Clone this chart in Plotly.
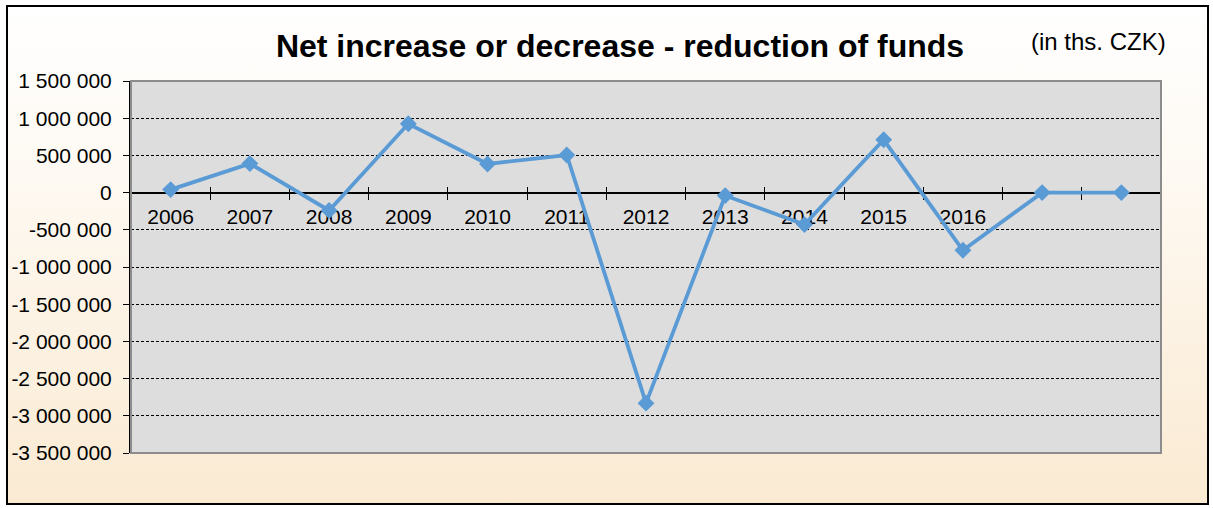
import base64
import plotly.graph_objects as go

# Net increase / decrease of funds, in thousands CZK
years = ["2006", "2007", "2008", "2009", "2010", "2011", "2012",
         "2013", "2014", "2015", "2016", "", ""]
values = [40000, 390000, -240000, 925000, 385000, 505000, -2830000,
          -40000, -430000, 710000, -775000, 0, 0]

y_ticks = [1500000, 1000000, 500000, 0, -500000, -1000000, -1500000,
           -2000000, -2500000, -3000000, -3500000]
y_tick_text = [f"{v:,}".replace(",", " ") for v in y_ticks]

W, H = 1213, 508
ML, MR, MT, MB = 131, 52, 81, 55
PW, PH = W - ML - MR, H - MT - MB

x_idx = list(range(len(values)))
bounds = [i - 0.5 for i in range(len(values) + 1)]
y_min, y_max = -3500000, 1500000
zero_pos = (0 - y_min) / (y_max - y_min)

FONT = "Liberation Sans, Arial, sans-serif"

# chart-area backdrop: vertical white-to-peach gradient with a black frame
svg = f"""<svg xmlns='http://www.w3.org/2000/svg' width='{W}' height='{H}' viewBox='0 0 {W} {H}'>
<defs><linearGradient id='g' x1='0' y1='0' x2='0' y2='1'>
<stop offset='0' stop-color='#FFFFFF'/><stop offset='0.35' stop-color='#FEF9F2'/>
<stop offset='1' stop-color='#FAEAD2'/></linearGradient></defs>
<rect x='7' y='6' width='1201' height='498' fill='url(#g)' stroke='#000000' stroke-width='2'/>
</svg>"""
bg_uri = "data:image/svg+xml;base64," + base64.b64encode(svg.encode()).decode()

fig = go.Figure()
fig.add_trace(go.Scatter(
    x=x_idx, y=values, mode="lines+markers",
    line=dict(color="#5B9BD5", width=3.8),
    marker=dict(symbol="diamond", size=13, color="#5B9BD5"),
    hoverinfo="skip", showlegend=False,
))
# carriers for the tick-mark axes (draw nothing)
for ax in ("x2", "x3"):
    fig.add_trace(go.Scatter(x=x_idx, y=values, xaxis=ax, mode="none",
                             hoverinfo="skip", showlegend=False))

common_x = dict(range=[-0.5, len(values) - 0.5], anchor="free", position=zero_pos,
                showgrid=False, zeroline=False, layer="below traces")

fig.update_layout(
    width=W, height=H,
    margin=dict(l=ML, r=MR, t=MT, b=MB, pad=0),
    paper_bgcolor="white",
    plot_bgcolor="rgba(0,0,0,0)",
    font=dict(family=FONT, color="black", size=21),
    title=dict(text="<b>Net increase or decrease - reduction of funds</b>",
               x=620 / W, xref="container", xanchor="center",
               y=1 - 46 / H, yref="container", yanchor="middle",
               font=dict(family=FONT, size=32, color="black")),
    xaxis=dict(**common_x, tickmode="array", tickvals=x_idx, ticktext=years,
               ticks="", showline=True, linecolor="black", linewidth=1.5,
               ticklabelstandoff=5, tickfont=dict(size=21)),
    xaxis2=dict(**common_x, overlaying="x", tickmode="array", tickvals=bounds,
                ticks="outside", ticklen=6, tickwidth=1.2, tickcolor="black",
                showticklabels=False, showline=False),
    xaxis3=dict(**common_x, overlaying="x", tickmode="array", tickvals=bounds,
                ticks="inside", ticklen=6, tickwidth=1.2, tickcolor="black",
                showticklabels=False, showline=False),
    yaxis=dict(range=[y_min, y_max], tickmode="array", tickvals=y_ticks,
               ticktext=y_tick_text, ticks="outside", ticklen=6, tickwidth=1.2,
               tickcolor="black", showline=True, linecolor="black", linewidth=2,
               showgrid=True, gridcolor="black", gridwidth=1, griddash="3px,2px",
               zeroline=False, ticklabelstandoff=7, tickfont=dict(size=21)),
    images=[dict(source=bg_uri, xref="paper", yref="paper",
                 x=-ML / PW, y=1 + MT / PH, sizex=W / PW, sizey=H / PH,
                 xanchor="left", yanchor="top", sizing="stretch", layer="below")],
    shapes=[
        # grey plot area, under the grid
        dict(type="rect", xref="paper", yref="paper", x0=0, y0=0, x1=1, y1=1,
             fillcolor="#DDDDDD", line=dict(width=0), layer="below"),
        # plot area frame
        dict(type="rect", xref="paper", yref="paper", x0=0, y0=0, x1=1, y1=1,
             line=dict(color="#8C8C8C", width=2), layer="above"),
    ],
    annotations=[dict(text="(in ths. CZK)", xref="paper", yref="paper",
                      x=(1168 - ML) / PW, y=(H - MB - 41) / PH,
                      xanchor="right", yanchor="middle", showarrow=False,
                      font=dict(family=FONT, size=24, color="black"))],
)

fig.write_html("out.html")
